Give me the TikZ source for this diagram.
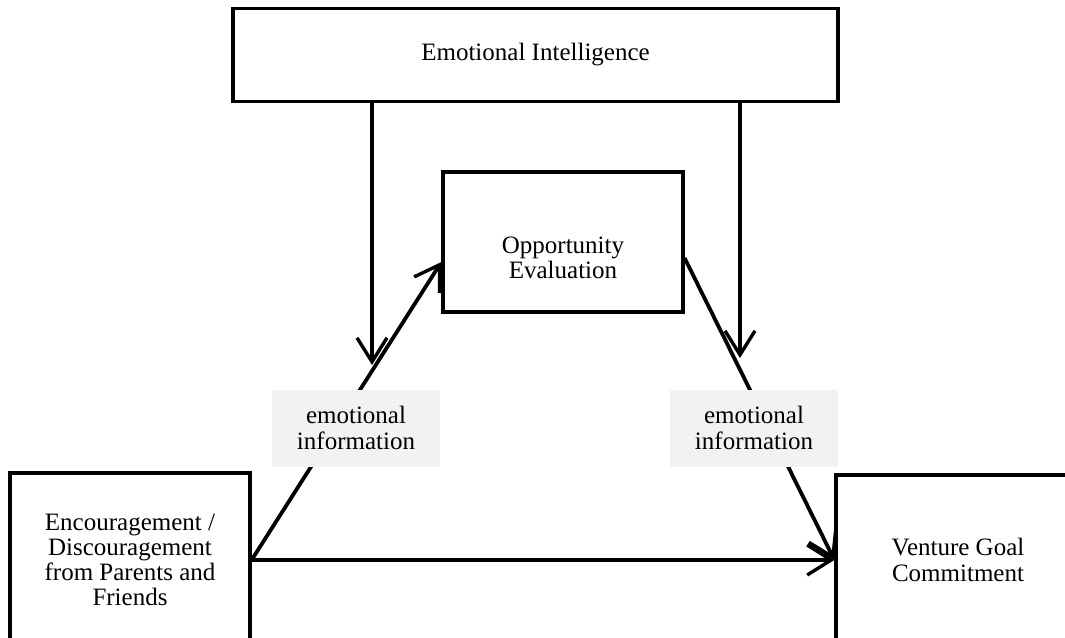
\documentclass[tikz,border=0pt]{standalone}
\usepackage{fontspec}
\setmainfont{Liberation Serif}
\usetikzlibrary{arrows.meta, positioning, calc}

\begin{document}
\begin{tikzpicture}[x=0.5pt, y=-0.5pt,
  >={Straight Barb[length=12pt, width=15pt, line width=1.7pt]},
  every node/.style={font=\fontsize{12.5}{12.6}\selectfont, align=center},
  box/.style={draw, line width=1.6pt, inner sep=0pt},
  tag/.style={fill=black!5, minimum width=84pt, minimum height=38.5pt},
  link/.style={->, line width=1.9pt}]
  \useasboundingbox (0,0) rectangle (1065,637);
  \clip (0,0) rectangle (1065,637);
  % boxes
  \node[box, minimum width=302.5pt, minimum height=46.5pt] (ei) at (535.5,55) {Emotional Intelligence};
  \node[box, minimum width=120pt, minimum height=70pt] (opp) at (563,242) {};
  \node (opptext) at (563,258) {Opportunity\\Evaluation};
  \node[box, minimum width=120pt, minimum height=87pt] (enc) at (130,560)
    {Encouragement /\\Discouragement\\from Parents and\\Friends};
  \node[box, minimum width=122pt, minimum height=85pt] (vgc) at (958,560) {Venture Goal\\Commitment};
  % moderating arrows from the top
  \coordinate (eiL) at (372,365);
  \coordinate (eiR) at (740,358);
  \draw[link] (ei.south -| eiL) -- (eiL);
  \draw[link] (ei.south -| eiR) -- (eiR);
  % paths
  \draw[link] (enc.east) -- ($(opp.west)+(0,20)$);
  \draw[link] ($(opp.east)+(0,16)$) -- (vgc.west);
  \draw[link] (enc.east) -- (vgc.west);
  % labels on the paths
  \node[tag] (infoL) at (356,428) {emotional\\information};
  \node[tag] (infoR) at (754,428) {emotional\\information};
\end{tikzpicture}
\end{document}
